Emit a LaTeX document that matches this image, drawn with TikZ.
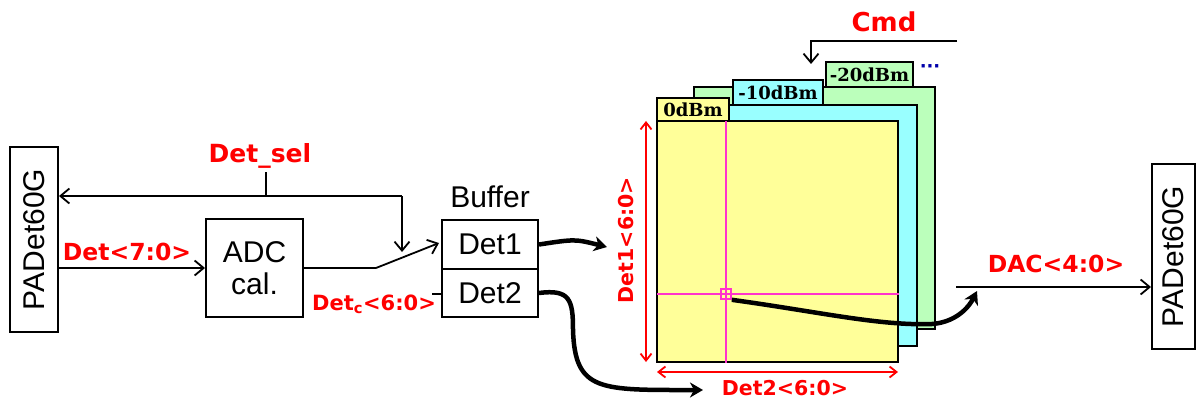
\documentclass[tikz,border=0pt]{standalone}
\usepackage{fontspec}
\setmainfont{Liberation Sans}
\newfontfamily\redfont{DejaVu Sans}
\newfontfamily\tabfont{DejaVu Serif}
\newfontfamily\dotfont{DejaVu Sans}
\usetikzlibrary{arrows.meta}
\definecolor{ylw}{RGB}{255,255,153}
\definecolor{cyn}{RGB}{153,255,255}
\definecolor{grn}{RGB}{187,255,187}
\definecolor{mag}{RGB}{255,51,204}
\definecolor{redc}{RGB}{255,0,0}
\definecolor{dotc}{RGB}{0,0,170}
\tikzset{
  wire/.style={line width=1.8pt},
  sig/.style={line width=1.8pt,-{Straight Barb[length=9pt,width=15pt]}},
  thickarr/.style={line width=4.5pt,-{Stealth[length=13pt,width=15pt,inset=4pt]}},
  redarr/.style={draw=redc,line width=1.8pt,{Straight Barb[length=7pt,width=11pt]}-{Straight Barb[length=7pt,width=11pt]}},
  lab/.style={text=redc,anchor=base,inner sep=0pt},
  lbig/.style={font=\redfont\bfseries\fontsize{23.5}{28}\selectfont},
  lsmall/.style={font=\redfont\bfseries\fontsize{20.5}{24}\selectfont},
  boxed/.style={draw,line width=2pt,inner sep=0pt},
  txt/.style={font=\fontsize{30}{36}\selectfont},
  layer/.style={draw,line width=2pt},
  tabtxt/.style={font=\tabfont\bfseries\fontsize{18}{20}\selectfont,inner sep=0pt},
  magl/.style={draw=mag,line width=2pt},
}
\begin{document}
\begin{tikzpicture}[x=1pt,y=-1pt]
\useasboundingbox (0,0) rectangle (1196,401);

% left and right pads
\node[boxed,minimum width=48pt,minimum height=185pt,txt] (padL) at (34,239.5) {\rotatebox{90}{PADet60G}};
\node[boxed,minimum width=43pt,minimum height=185pt,txt] (padR) at (1173.5,256.5) {\rotatebox{90}{PADet60G}};

% ADC
\node[boxed,minimum width=97pt,minimum height=98pt,txt,align=center] (adc) at (254.5,268) {ADC\\[-4pt]cal.};

% buffer
\node[boxed,minimum width=96pt,minimum height=49pt,txt] (det1) at (490,244.5) {Det1};
\node[boxed,minimum width=96pt,minimum height=48pt,txt] (det2) at (490,293) {Det2};
\node[txt,anchor=base,inner sep=0pt] (buf) at (490,207) {Buffer};

% labels
\node[lab,lbig] (l7) at (127,260) {Det<7:0>};
\node[lab,lbig,font=\redfont\bfseries\fontsize{25}{28}\selectfont] (dsel) at (260,162) {Det\_sel};
\node[lab,lsmall,font=\redfont\bfseries\fontsize{21}{24}\selectfont] (ldc) at (374,310) {Det\textsubscript{c}<6:0>};
\node[lab,lbig] (ldac) at (1056,272) {DAC<4:0>};
\node[lab,lbig,font=\redfont\bfseries\fontsize{26}{28}\selectfont] (lcmd) at (884,32) {Cmd};
\node[lab,lsmall] (ld2) at (785,395) {Det2<6:0>};
\node[lab,lsmall,rotate=90] (ld1) at (633,240) {Det1<6:0>};

% wires
\draw[sig] (padL.east |- adc.west) -- (adc.west);
\coordinate (selT) at (266,172);
\coordinate (selJ) at (266,196);
\coordinate (swT) at (402,196);
\coordinate (swA) at (402,252);
\draw[wire] (selT) -- (selJ);
\draw[sig] (swT) -- (padL.east |- swT);
\draw[sig] (swT) -- (swA);
\coordinate (sw1) at (376,268);
\coordinate (swE) at (439,243);
\draw[wire] (adc.east |- sw1) -- (sw1);
\draw[sig] (sw1) -- (swE);
\coordinate (dash) at (432,294);
\draw[wire] (dash) -- (det2.west |- dash);

% cmd
\coordinate (cmdS) at (957,41);
\coordinate (cmdE) at (811,64);
\draw[sig] (cmdS) -| (cmdE);

% layers
\draw[layer,fill=grn] (694,87) rectangle (935,329);
\node[layer,fill=grn,minimum width=87pt,minimum height=25pt,inner sep=0pt] (tab3) at (869.5,74.5) {};
\node[tabtxt] at (tab3) {-20dBm};
\draw[layer,fill=cyn] (676,105) rectangle (917,346);
\node[layer,fill=cyn,minimum width=90pt,minimum height=25pt,inner sep=0pt] (tab2) at (778,92.5) {};
\node[tabtxt] at (tab2) {-10dBm};
\node[layer,fill=ylw,minimum width=72pt,minimum height=23pt,inner sep=0pt] (tab1) at (693,109.5) {};
\node[tabtxt] at (tab1) {0dBm};
\node[layer,fill=ylw,minimum width=241pt,minimum height=241pt,inner sep=0pt] (map) at (777.5,241.5) {};
\node[font=\dotfont\bfseries\fontsize{18}{20}\selectfont,text=dotc,inner sep=0pt] (dots) at (930,69) {···};

% crosshair
\coordinate (vx) at (726,121);
\coordinate (hy) at (657,294);
\draw[magl] (vx) -- (vx |- map.south);
\draw[magl] (hy) -- (map.east |- hy);
\node[draw=mag,line width=1.6pt,minimum size=10pt,inner sep=0pt] (pt) at (726,294) {};

% red dimension arrows
\coordinate (v1) at (646,121);
\coordinate (v2) at (646,362);
\draw[redarr] (v1) -- (v2);
\coordinate (h1) at (657,372);
\coordinate (h2) at (898,372);
\draw[redarr] (h1) -- (h2);

% thick curves
\coordinate (a1) at (607,247);
\draw[thickarr] (det1.east) .. controls (575,239) .. (a1);
\coordinate (a2) at (703,390);
\draw[thickarr] (det2.east) .. controls (570,289) and (573,300) .. (573,330) .. controls (575,392) and (600,390) .. (a2);
\coordinate (a3) at (977,291);
\draw[thickarr] (pt.south east) .. controls (820,312) and (880,326) .. (932,324) .. controls (958,322) and (970,305) .. (a3);

% DAC
\coordinate (dacS) at (956,287);
\draw[sig] (dacS) -- (padR.west |- dacS);
\end{tikzpicture}
\end{document}
